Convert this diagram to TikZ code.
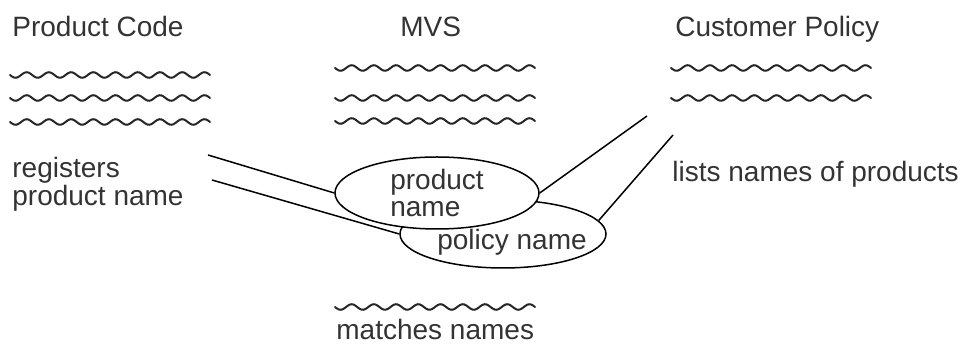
\documentclass[tikz,border=0pt]{standalone}
\usepackage{fontspec}
\setmainfont{Liberation Sans}
\usetikzlibrary{shapes.geometric}

\begin{document}
\begin{tikzpicture}[
    x=0.5pt, y=-0.5pt,
    lbl/.style={font=\fontsize{14}{13}\selectfont, text=black!80, inner sep=0pt, anchor=base west},
    squiggle/.style={draw=black!85, line width=1pt, line cap=round, line join=round},
    link/.style={draw=black, line width=0.75pt},
    blob/.style={ellipse, draw=black, line width=0.75pt, fill=white, inner sep=0pt}
]
\useasboundingbox (0,0) rectangle (963,356);

% column titles
\node[lbl] (code) at (12,37) {Product Code};
\node[lbl] (mvs) at (400,37) {MVS};
\node[lbl] (cust) at (675,37) {Customer Policy};

% wavy text lines
\foreach \px/\py in {10/75,10/98,10/122,335/68,335/98,335/121,671/68,671/98,335/307}{
  \draw[squiggle] plot[variable=\t, domain=0:200, samples=100, smooth]
    ({\px+\t},{\py+2.8*sin(\t*16.2)});
}

\node[lbl, align=left] (reg) at (12,206) {registers\\product name};
\node[lbl] (lists) at (672,182) {lists names of products};
\node[lbl] (match) at (336,340) {matches names};

% ellipses
\node[blob, minimum width=103pt, minimum height=34pt] (policy) at (503,234) {};
\node[lbl, anchor=base] (policytxt) at (512,250) {policy name};
\node[blob, minimum width=102pt, minimum height=36pt,
  font=\fontsize{14}{13.5}\selectfont, text=black!80, align=left] (product) at (437,193) {product\\name};

% connectors
\coordinate (l1) at (208,155);
\coordinate (l2) at (212,180);
\coordinate (r1) at (647,116);
\coordinate (r2) at (673,135);
\draw[link] (l1) -- (product.west);
\draw[link] (l2) -- (policy.west);
\draw[link] (r1) -- (product.east);
\draw[link] (r2) -- (policy.8);

\end{tikzpicture}
\end{document}
